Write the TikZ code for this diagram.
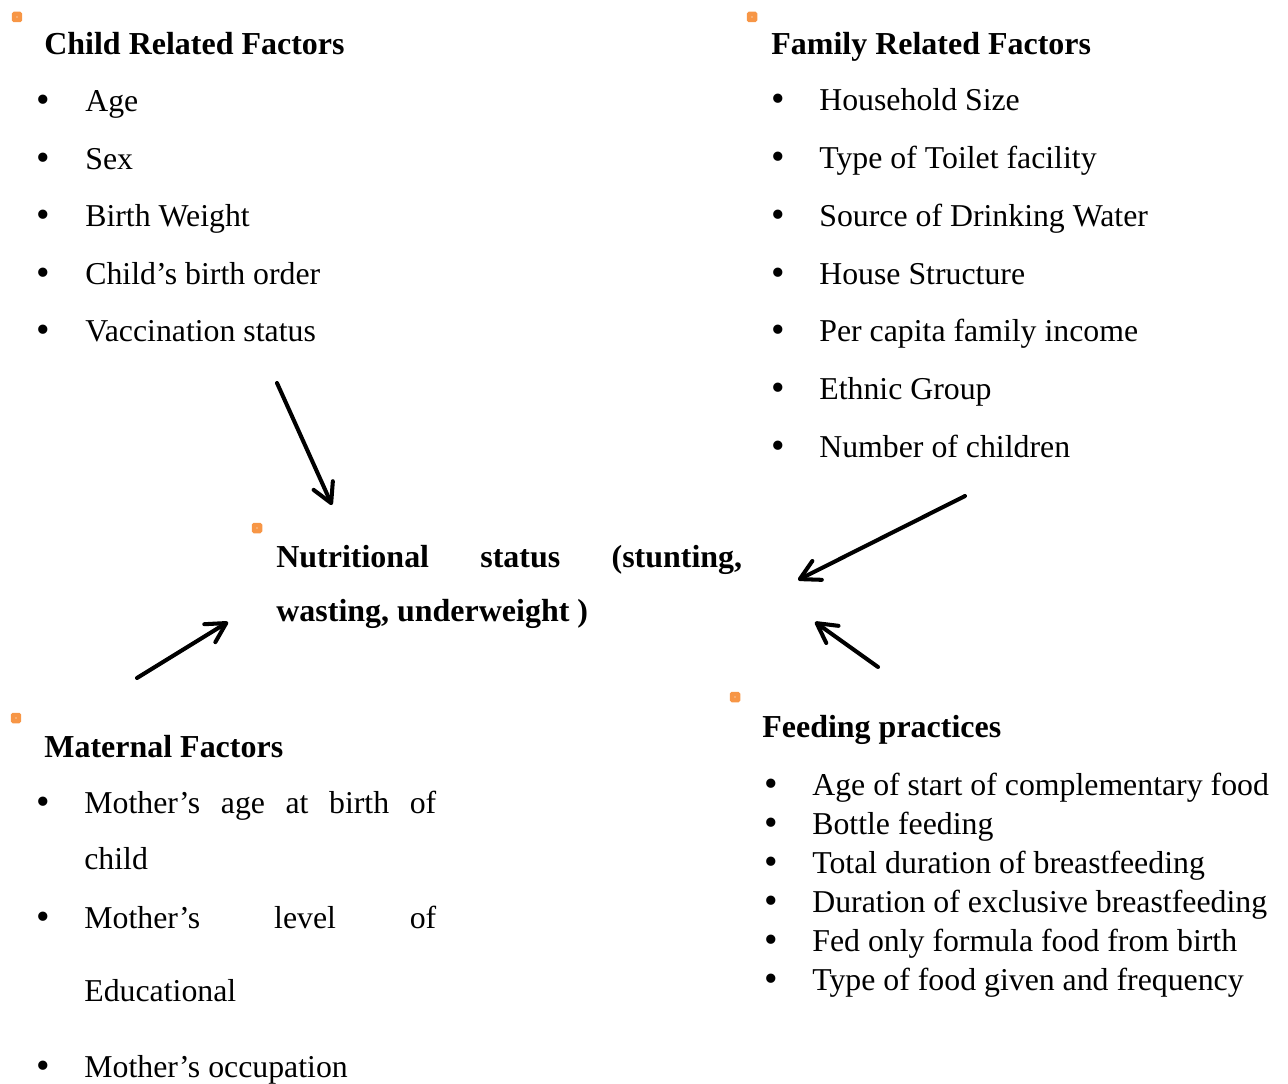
\documentclass[tikz,border=0pt]{standalone}
\usepackage{fontspec}
\setmainfont{Liberation Serif}
\usetikzlibrary{arrows.meta}
\definecolor{anchororange}{HTML}{F79646}
\tolerance=10000
\hbadness=10000
\hyphenpenalty=10000

\begin{document}
\begin{tikzpicture}[x=0.02cm,y=-0.02cm,
  txt/.style={anchor=base west,inner sep=0pt,font=\fontsize{18.1}{22}\selectfont},
  head/.style={txt,font=\fontsize{18.2}{22}\selectfont\bfseries},
  bul/.style={anchor=base,inner sep=0pt,font=\fontsize{22}{22}\selectfont},
  pin/.style={rectangle,rounded corners=1pt,fill=anchororange,minimum size=0.21cm,inner sep=0pt,
    path picture={\fill[white] (path picture bounding box.center) circle (0.4pt);}},
  arr/.style={line width=2.3pt,line cap=round,-{Straight Barb[round,length=11pt,width=12pt]}}]
\useasboundingbox (0,0) rectangle (1288,1084);
\node[pin] (p1) at (17,17) {};
\node[head] (child) at (44,55) {Child Related Factors};
\foreach \factor [count=\i] in {Age,Sex,Birth Weight,Child’s birth order,Vaccination status}{
  \node[bul] (cb\i) at (43,{113+57.5*(\i-1)}) {•};
  \node[txt] (c\i) at (85,{112+57.5*(\i-1)}) {\factor};
}
\node[pin] (p2) at (752,17) {};
\node[head] (family) at (771,55) {Family Related Factors};
\foreach \factor [count=\i] in {Household Size,Type of Toilet facility,Source of Drinking Water,House Structure,Per capita family income,Ethnic Group,Number of children}{
  \node[bul] (fb\i) at (778,{112+57.7*(\i-1)}) {•};
  \node[txt] (f\i) at (819,{111+57.7*(\i-1)}) {\factor};
}
\node[pin] (p3) at (257,528) {};
\node[txt,font=\fontsize{18.2}{31.3}\selectfont\bfseries,text width=9.32cm,align=justify] (status) at (276,567)
  {Nutritional status (stunting, wasting, underweight )};
\node[pin] (p4) at (16,718) {};
\node[head] (mother) at (44,757) {Maternal Factors};
\node[bul] (mb1) at (43,814) {•};
\node[txt,text width=7.04cm,align=justify,font=\fontsize{18.1}{32.4}\selectfont] (m1) at (84,813) {Mother’s age at birth of child};
\node[bul] (mb2) at (43,929) {•};
\node[txt,text width=7.04cm,align=justify,font=\fontsize{18.1}{42}\selectfont] (m2) at (84,928) {Mother’s level of Educational};
\node[bul] (mb3) at (43,1078) {•};
\node[txt] (m3) at (84,1077) {Mother’s occupation};
\node[pin] (p5) at (735,697) {};
\node[head] (feed) at (762,737) {Feeding practices};
\foreach \factor [count=\i] in {Age of start of complementary food,Bottle feeding,Total duration of breastfeeding,Duration of exclusive breastfeeding,Fed only formula food from birth,Type of food given and frequency}{
  \node[bul] (eb\i) at (771,{796+39*(\i-1)}) {•};
  \node[txt] (e\i) at (812,{795+39*(\i-1)}) {\factor};
}
\coordinate (child-tail) at (277,383);
\coordinate (child-tip) at (332,505);
\coordinate (family-tail) at (965,496);
\coordinate (family-tip) at (798,580);
\coordinate (mother-tail) at (137,678);
\coordinate (mother-tip) at (228,622);
\coordinate (feed-tail) at (878,667);
\coordinate (feed-tip) at (815,622);
\draw[arr] (child-tail) -- (child-tip);
\draw[arr] (family-tail) -- (family-tip);
\draw[arr] (mother-tail) -- (mother-tip);
\draw[arr] (feed-tail) -- (feed-tip);
\end{tikzpicture}
\end{document}
